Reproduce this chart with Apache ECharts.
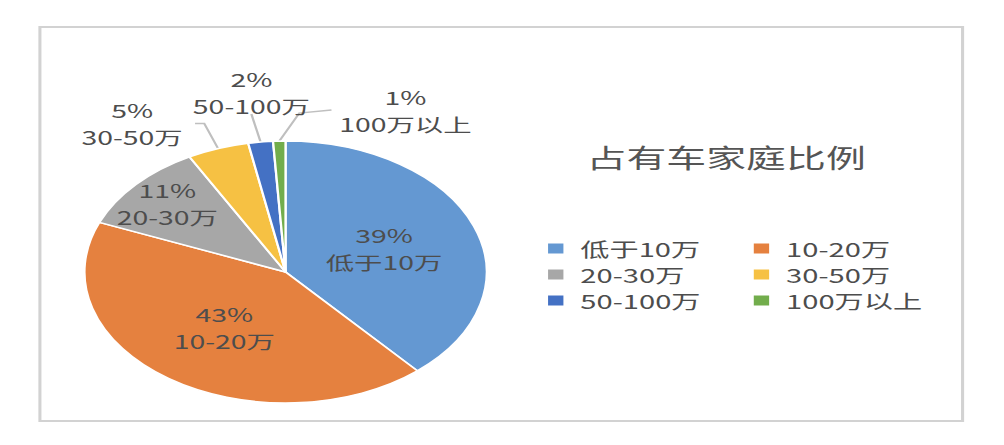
<!DOCTYPE html>
<html>
<head>
    <meta charset="utf-8" />
    <title>占有车家庭比例</title>
    <script src="https://cdn.jsdelivr.net/npm/echarts@6/dist/echarts.min.js"></script>
    <style>
        html, body { margin: 0; padding: 0; background: #fff; overflow: hidden; }
        /* the reference is stretched sideways, so draw narrow and widen it */
        #main { width: 654px; height: 445px; transform: scaleX(1.5352); transform-origin: 0 0; }
    </style>
</head>
<body>
    <div id="main"></div>
    <script type="text/javascript">
        var categories = ['低于10万', '10-20万', '20-30万', '30-50万', '50-100万', '100万以上'];
        var shares = [39, 43, 11, 5, 2, 1];
        var colors = ['#6498d2', '#e5813f', '#a7a7a7', '#f6c143', '#4471c4', '#72ad4c'];
        var legendLeft = ['低于10万', '20-30万', '50-100万'];
        var legendRight = ['10-20万', '30-50万', '100万以上'];

        var textColor = '#4d4d4d';
        var font = '"Noto Sans CJK SC", "Noto Sans", sans-serif';

        var pieData = categories.map(function (name, i) {
            var item = { name: name, value: shares[i], itemStyle: { color: colors[i] } };
            if (i >= 3) {
                item.label = { position: 'outside' };
                item.labelLine = { show: true };
            }
            return item;
        });

        // leader line offsets for the small slices: [elbow dx, elbow dy, end dx, end dy]
        var leader = {
            3: [-9, -25, -6, 0],
            4: [-6, -28, 0, 0],
            5: [13, -28, 21, -3]
        };

        var legendText = {
            color: textColor, fontSize: 19, lineHeight: 18, fontFamily: font,
            padding: [0, 0, 0, 5]
        };

        var myChart = echarts.init(document.getElementById('main'), null, { renderer: 'svg' });
        var option = {
            backgroundColor: '#fff',
            animation: false,
            title: {
                text: '占有车家庭比例',
                left: 468, top: 139, textAlign: 'center',
                textStyle: { color: '#555', fontSize: 26, fontWeight: 'normal', fontFamily: font }
            },
            graphic: [{
                type: 'rect', silent: true,
                shape: { x: 26, y: 27, width: 601, height: 394 },
                style: { fill: 'none', stroke: '#d2d2d2', lineWidth: 2 }
            }],
            legend: [
                {
                    orient: 'vertical', left: 355, top: 239, padding: 0, itemGap: 7,
                    itemWidth: 12, itemHeight: 12, icon: 'rect',
                    data: legendLeft, textStyle: legendText
                },
                {
                    orient: 'vertical', left: 489, top: 239, padding: 0, itemGap: 7,
                    itemWidth: 12, itemHeight: 12, icon: 'rect',
                    data: legendRight, textStyle: legendText
                }
            ],
            series: [{
                type: 'pie',
                center: [186, 272],
                radius: 131,
                startAngle: 90,
                clockwise: true,
                avoidLabelOverlap: false,
                itemStyle: { borderColor: '#fff', borderWidth: 1.5 },
                label: {
                    position: 'inside',
                    formatter: '{c}%\n{b}',
                    color: textColor, fontSize: 18.5, lineHeight: 27, fontFamily: font
                },
                labelLine: {
                    show: false,
                    lineStyle: { color: '#bfbfbf', width: 1.5 }
                },
                labelLayout: function (params) {
                    var i = params.dataIndex;
                    if (i === 2) {
                        return { dx: -26, dy: -23 };
                    }
                    if (!leader[i] || !params.labelLinePoints) {
                        return {};
                    }
                    var p0 = params.labelLinePoints[0];
                    var o = leader[i];
                    var p1 = [p0[0] + o[0], p0[1] + o[1]];
                    var p2 = [p1[0] + o[2], p1[1] + o[3]];
                    var half = params.labelRect.width / 2;
                    var res = { labelLinePoints: [p0, p1, p2], verticalAlign: 'middle', align: 'center' };
                    if (i === 3) {
                        res.x = p2[0] - 8 - half; res.y = p2[1];
                    } else if (i === 4) {
                        res.x = p2[0]; res.y = p2[1] - 22;
                    } else {
                        res.x = p2[0] + 5 + half; res.y = p2[1];
                    }
                    return res;
                },
                data: pieData
            }]
        };
        myChart.setOption(option);
    </script>
</body>
</html>
